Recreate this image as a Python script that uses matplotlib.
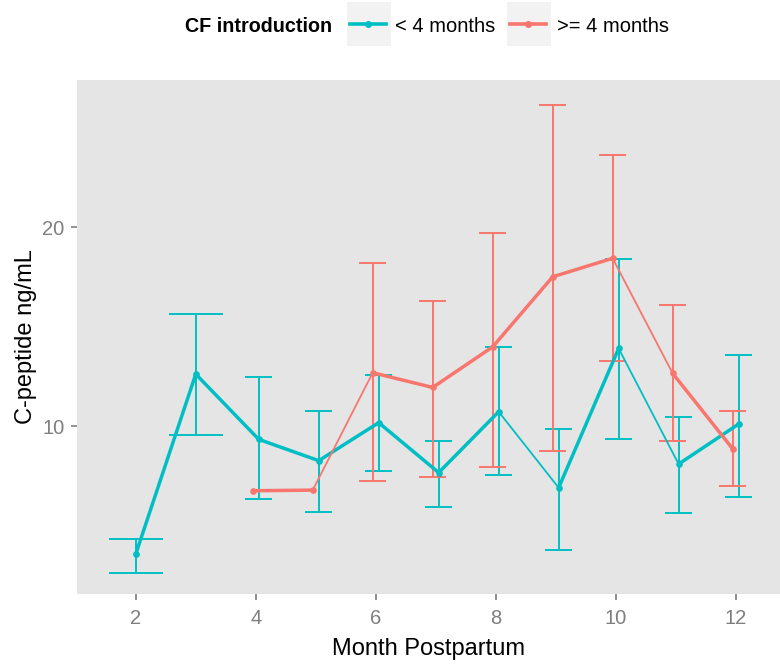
import numpy as np
import matplotlib
matplotlib.use("Agg")
import matplotlib.pyplot as plt
from matplotlib.patches import Rectangle
from matplotlib.lines import Line2D

nan = np.nan

# ---- data ----
groups = ["< 4 months", ">= 4 months"]
legend_title = "CF introduction"

months_lt4 = [2, 3, 4, 5, 6, 7, 8, 9, 10, 11, 12]
mean_lt4 = [3.57, 12.61, 9.33, 8.26, 10.17, 7.66, 10.72, 6.90, 13.90, 8.09, 10.10]
lower_lt4 = [2.60, 9.53, 6.33, 5.69, 7.74, 5.91, 7.52, 3.77, 9.33, 5.61, 6.42]
upper_lt4 = [4.31, 15.63, 12.45, 10.74, 12.56, 9.25, 13.98, 9.83, 18.38, 10.44, 13.55]

months_ge4 = [4, 5, 6, 7, 8, 9, 10, 11, 12]
mean_ge4 = [6.75, 6.78, 12.68, 11.94, 13.98, 17.50, 18.43, 12.65, 8.86]
lower_ge4 = [nan, nan, 7.24, 7.42, 7.92, 8.74, 13.27, 9.25, 7.00]
upper_ge4 = [nan, nan, 18.19, 16.28, 19.68, 26.15, 23.62, 16.06, 10.75]

xticks = [2, 4, 6, 8, 10, 12]
yticks = [10, 20]

# ---- style ----
TEAL = "#00BFC4"
RED = "#F8766D"
THICK, THIN = 2.5, 1.3
seg_lw_lt4 = [THICK, THICK, THICK, THICK, THICK, THICK, THIN, THICK, THIN, THICK]
seg_lw_ge4 = [THICK, THIN, THICK, THICK, THICK, THICK, THIN, THICK]
DODGE = 0.05

plt.rcParams["font.family"] = ["Liberation Sans", "DejaVu Sans"]

fig = plt.figure(figsize=(7.8, 6.67), dpi=100)
ax = fig.add_axes([77 / 780, 1 - 594 / 667, 1 - 77 / 780, (594 - 80) / 667])
ax.set_facecolor("#E5E5E5")
for s in ax.spines.values():
    s.set_visible(False)

shared = set(months_lt4) & set(months_ge4)


def positions(months, sign):
    return np.array([m + sign * DODGE if m in shared else m for m in months], float)


def halfwidths(months):
    return np.array([0.225 if m in shared else 0.45 for m in months])


series = [
    (months_lt4, mean_lt4, lower_lt4, upper_lt4, TEAL, seg_lw_lt4, +1),
    (months_ge4, mean_ge4, lower_ge4, upper_ge4, RED, seg_lw_ge4, -1),
]

# error bars
for months, mean, lo, hi, col, _, sign in series:
    x = positions(months, sign)
    hw = halfwidths(months)
    lo = np.array(lo, float)
    hi = np.array(hi, float)
    ok = ~np.isnan(lo)
    ax.vlines(x[ok], lo[ok], hi[ok], color=col, lw=1.4, zorder=2)
    ax.hlines(lo[ok], x[ok] - hw[ok], x[ok] + hw[ok], color=col, lw=1.4, zorder=2)
    ax.hlines(hi[ok], x[ok] - hw[ok], x[ok] + hw[ok], color=col, lw=1.4, zorder=2)

# lines
for months, mean, lo, hi, col, seglw, sign in series:
    x = positions(months, sign)
    y = np.array(mean, float)
    for i in range(len(x) - 1):
        ax.plot(x[i:i + 2], y[i:i + 2], color=col, lw=seglw[i],
                solid_capstyle="round", zorder=3)

# points
for months, mean, lo, hi, col, _, sign in series:
    x = positions(months, sign)
    ax.plot(x, mean, "o", color=col, ms=3.8, zorder=4, ls="none")

ax.set_xlim(1.02, 12.74)
ax.set_ylim(1.56, 27.39)
ax.set_xticks(xticks)
ax.set_yticks(yticks)
ax.tick_params(colors="#7F7F7F", labelcolor="#7F7F7F", labelsize=14.5,
               length=4, width=1.2, pad=5)
ax.tick_params(axis="x", pad=7)
ax.set_xlabel("Month Postpartum", fontsize=17, labelpad=7)
ax.set_ylabel("C-peptide ng/mL", fontsize=17, labelpad=4)

# legend (top, horizontal)
W, H = 780.0, 667.0
fig.text(185 / W, 1 - 27 / H, legend_title, fontsize=14.2, fontweight="bold",
         ha="left", va="center")
keys = [(347, TEAL, groups[0], 395), (507, RED, groups[1], 557)]
for kx, col, lab, tx in keys:
    fig.patches.append(Rectangle((kx / W, 1 - 46 / H), 44 / W, 44 / H,
                                 transform=fig.transFigure, facecolor="#F2F2F2",
                                 edgecolor="none"))
    fig.lines.append(Line2D([(kx + 3) / W, (kx + 39) / W], [1 - 24 / H, 1 - 24 / H],
                            transform=fig.transFigure, color=col, lw=2.6))
    fig.lines.append(Line2D([(kx + 21) / W], [1 - 24 / H], transform=fig.transFigure,
                            color=col, marker="o", ms=4, ls="none"))
    fig.text(tx / W, 1 - 27 / H, lab, fontsize=14.5, ha="left", va="center")

fig.savefig("out.png", dpi=100)
